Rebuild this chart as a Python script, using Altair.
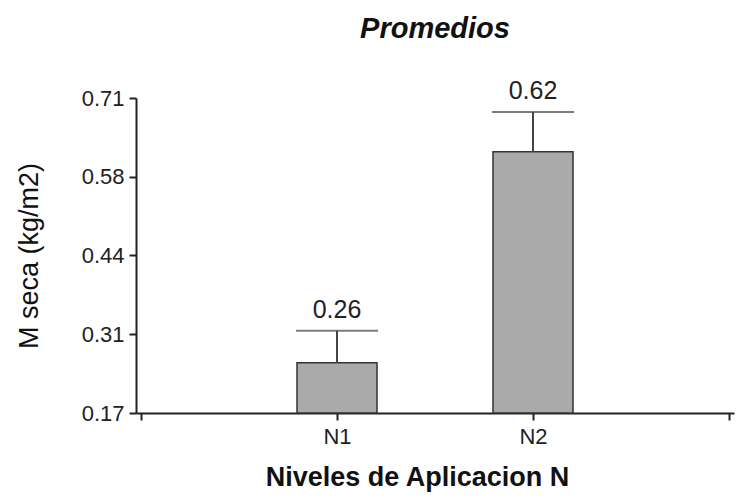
import altair as alt
import pandas as pd

categories = ["N1", "N2"]
means = [0.256, 0.618]
errors = [0.055, 0.068]
y_ticks = [0.17, 0.3051, 0.44, 0.5751, 0.71]

df = pd.DataFrame({
    "cat": categories,
    "pos": [i + 1 for i in range(len(categories))],
    "mean": means,
    "upper": [m + e for m, e in zip(means, errors)],
    "base": [0.17] * len(categories),
})

FONT = "Liberation Sans"

x_axis = alt.Axis(values=[0, 1, 2, 3], grid=False,
                  labelExpr="datum.value == 1 ? 'N1' : datum.value == 2 ? 'N2' : ''",
                  title="Niveles de Aplicacion N",
                  labelFontSize=22, titleFontSize=27, titleFontWeight="bold",
                  labelPadding=6, tickSize=7,
                  titleX=281, titleY=72, titleBaseline="alphabetic", titleAlign="center",
                  domainColor="#222222", tickColor="#222222", domainWidth=2, tickWidth=2)
y_axis = alt.Axis(values=y_ticks, format=".2f", title="M seca (kg/m2)", grid=False,
                  labelFontSize=22, titleFontSize=27, titleFontWeight="normal",
                  labelPadding=5, titlePadding=38, tickSize=7,
                  domainColor="#222222", tickColor="#222222", domainWidth=2, tickWidth=2)
x_scale = alt.Scale(domain=[0, 3], nice=False, zero=False)
y_scale = alt.Scale(domain=[0.17, 0.71], nice=False, zero=False)

bars = alt.Chart(df).mark_bar(size=80, color="#aaaaaa", stroke="#333333", strokeWidth=1.5).encode(
    x=alt.X("pos:Q", scale=x_scale, axis=x_axis),
    y=alt.Y("mean:Q", scale=y_scale, axis=y_axis),
    y2="base:Q")

err = alt.Chart(df).mark_rule(color="#444444", strokeWidth=2).encode(
    x=alt.X("pos:Q", scale=x_scale, axis=x_axis),
    y=alt.Y("mean:Q", scale=y_scale, axis=y_axis),
    y2="upper:Q")

caps = alt.Chart(df).mark_tick(color="#444444", thickness=2, size=82, orient="horizontal").encode(
    x=alt.X("pos:Q", scale=x_scale, axis=x_axis),
    y=alt.Y("upper:Q", scale=y_scale, axis=y_axis))

labels = alt.Chart(df).mark_text(fontSize=25, font=FONT, dy=-21, baseline="middle", color="#222222").encode(
    x=alt.X("pos:Q", scale=x_scale, axis=x_axis),
    y=alt.Y("upper:Q", scale=y_scale, axis=y_axis),
    text=alt.Text("mean:Q", format=".2f"))

chart = alt.layer(bars, err, caps, labels).properties(
    width=598, height=315,
    background="white",
    autosize=alt.AutoSizeParams(type="none"),
    padding={"left": 128, "top": 90, "right": 12, "bottom": 79},
    title=alt.Title("Promedios", fontSize=29, font=FONT, fontWeight="bold", fontStyle="italic",
                    anchor="middle", offset=35, color="#111111"),
).configure_axis(
    grid=False, labelColor="#222222", titleColor="#111111", labelFont=FONT, titleFont=FONT,
).configure_view(stroke=None)

chart.save("out.html", embed_options={"renderer": "svg", "actions": False})
